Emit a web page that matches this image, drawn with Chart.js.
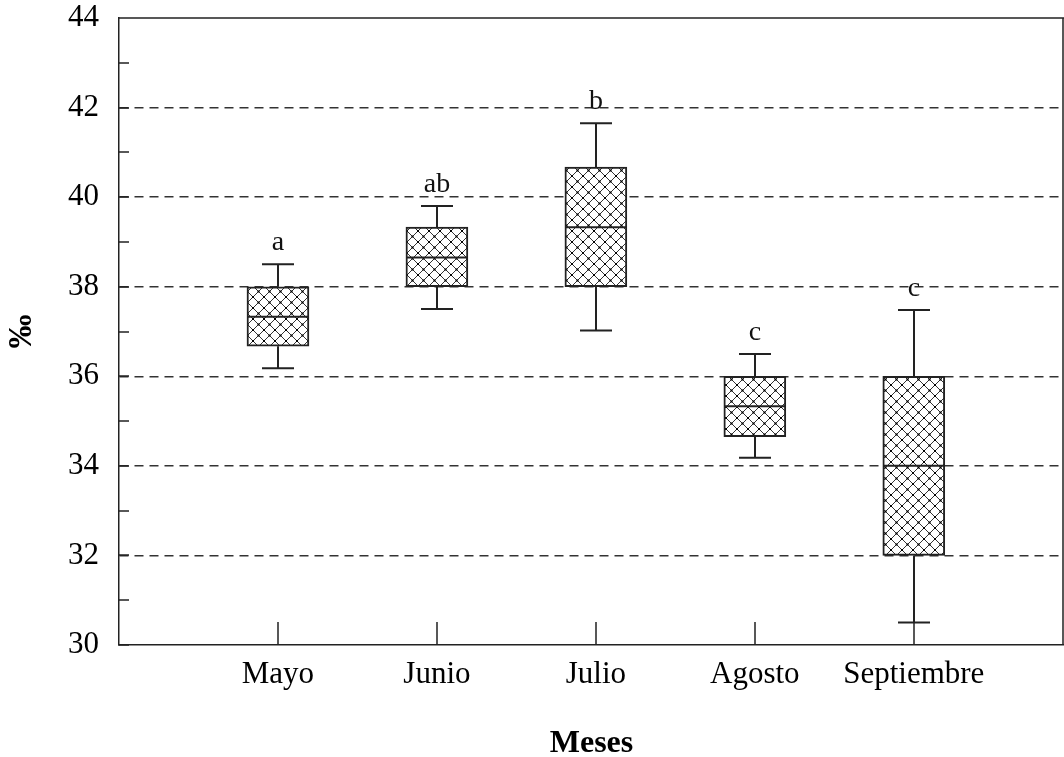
<!DOCTYPE html>
<html>
<head>
<meta charset="utf-8">
<script src="https://cdn.jsdelivr.net/npm/chart.js@4.4.1/dist/chart.umd.min.js"></script>
<style>
  html, body { margin: 0; padding: 0; background: #fff; }
  #wrap { width: 1064px; height: 757px; }
</style>
</head>
<body>
<div id="wrap"><canvas id="chart" width="1064" height="757"></canvas></div>
<script>
// Data
const months = ["Mayo", "Junio", "Julio", "Agosto", "Septiembre"];
const whiskerLow = [36.18, 37.5, 37.02, 34.18, 30.5];
const q1 = [36.67, 38.0, 38.0, 34.65, 32.0];
const median = [37.33, 38.65, 39.33, 35.33, 34.0];
const q3 = [38.0, 39.33, 40.67, 36.0, 36.0];
const whiskerHigh = [38.5, 39.8, 41.65, 36.5, 37.48];
const groups = ["a", "ab", "b", "c", "c"];
const yTicks = [30, 32, 34, 36, 38, 40, 42, 44];

const serif = "'Liberation Serif', 'Times New Roman', serif";

// cross-hatch fill for the boxes
function makeHatch() {
    const s = 11;
    const c = document.createElement("canvas");
    c.width = s; c.height = s;
    const g = c.getContext("2d");
    g.fillStyle = "#fff";
    g.fillRect(0, 0, s, s);
    g.strokeStyle = "#333";
    g.lineWidth = 1;
    g.beginPath();
    g.moveTo(-1, -1); g.lineTo(s + 1, s + 1);
    g.moveTo(s + 1, -1); g.lineTo(-1, s + 1);
    g.stroke();
    g.fillStyle = "#000";
    g.fillRect(s / 2 - 1, s / 2 - 1, 2, 2);
    g.fillRect(0, 0, 1, 1); g.fillRect(s - 1, 0, 1, 1);
    g.fillRect(0, s - 1, 1, 1); g.fillRect(s - 1, s - 1, 1, 1);
    return g.createPattern(c, "repeat");
}

const boxExtras = {
    id: "boxExtras",
    afterDatasetsDraw(chart) {
        const { ctx, chartArea: area, scales: { x, y } } = chart;
        ctx.save();
        ctx.strokeStyle = "#222";
        ctx.lineWidth = 2;
        const capHalf = 16, boxHalf = 31;

        months.forEach((m, i) => {
            const px = Math.round(x.getPixelForValue(i + 1));
            const yLo = y.getPixelForValue(whiskerLow[i]);
            const yQ1 = y.getPixelForValue(q1[i]);
            const yMed = y.getPixelForValue(median[i]);
            const yQ3 = y.getPixelForValue(q3[i]);
            const yHi = y.getPixelForValue(whiskerHigh[i]);

            ctx.beginPath();
            // whiskers
            ctx.moveTo(px, yQ3); ctx.lineTo(px, yHi);
            ctx.moveTo(px, yQ1); ctx.lineTo(px, yLo);
            // caps
            ctx.moveTo(px - capHalf, yHi); ctx.lineTo(px + capHalf, yHi);
            ctx.moveTo(px - capHalf, yLo); ctx.lineTo(px + capHalf, yLo);
            // median
            ctx.moveTo(px - boxHalf, yMed); ctx.lineTo(px + boxHalf, yMed);
            ctx.stroke();

            // group letters
            ctx.fillStyle = "#111";
            ctx.font = "28px " + serif;
            ctx.textAlign = "center";
            ctx.textBaseline = "alphabetic";
            ctx.fillText(groups[i], px, yHi - 14);
        });

        // inward ticks
        ctx.lineWidth = 1.5;
        ctx.beginPath();
        for (let v = 30; v <= 44; v++) {
            const py = Math.round(y.getPixelForValue(v));
            ctx.moveTo(area.left, py); ctx.lineTo(area.left + 10, py);
        }
        months.forEach((m, i) => {
            const px = Math.round(x.getPixelForValue(i + 1));
            ctx.moveTo(px, area.bottom); ctx.lineTo(px, area.bottom - 23);
        });
        // frame top and right
        ctx.moveTo(area.left, area.top); ctx.lineTo(area.right, area.top);
        ctx.moveTo(area.right - 1, area.top); ctx.lineTo(area.right - 1, area.bottom);
        ctx.stroke();
        ctx.restore();
    }
};

const hatch = makeHatch();

new Chart(document.getElementById("chart"), {
    type: "bar",
    data: {
        datasets: [{
            data: months.map((m, i) => ({ x: i + 1, y: [q1[i], q3[i]] })),
            backgroundColor: hatch,
            borderColor: "#222",
            borderWidth: 2,
            borderSkipped: false,
            barThickness: 62
        }]
    },
    options: {
        responsive: false,
        animation: false,
        layout: { padding: { top: 18, right: 0, left: 0, bottom: 0 } },
        plugins: { legend: { display: false }, tooltip: { enabled: false } },
        scales: {
            x: {
                type: "linear",
                offset: false,
                min: 0,
                max: 5.945,
                afterBuildTicks: s => { s.ticks = months.map((m, i) => ({ value: i + 1 })); },
                afterFit: s => { s.height = 112; s.paddingLeft = 0; s.paddingRight = 0; },
                grid: { display: false, drawTicks: false, offset: false },
                border: { display: true, color: "#222", width: 1.5 },
                ticks: {
                    padding: 11,
                    color: "#000",
                    font: { family: serif, size: 31 },
                    maxRotation: 0,
                    callback: v => months[v - 1] || ""
                },
                title: {
                    display: true,
                    text: "Meses",
                    color: "#000",
                    font: { family: serif, size: 32, weight: "bold", lineHeight: 1 },
                    padding: { top: 0, bottom: -3 }
                }
            },
            y: {
                min: 30,
                max: 44,
                afterBuildTicks: s => { s.ticks = yTicks.map(v => ({ value: v })); },
                afterFit: s => { s.width = 119; s.paddingTop = 0; s.paddingBottom = 0; },
                grid: {
                    drawTicks: false,
                    color: c => (c.tick && (c.tick.value === 30 || c.tick.value === 44)) ? "rgba(0,0,0,0)" : "#333",
                    lineWidth: 1.5
                },
                border: { display: true, color: "#222", width: 1.5, dash: [9, 6] },
                ticks: {
                    padding: 20,
                    color: "#000",
                    font: { family: serif, size: 31, lineHeight: 1.15 }
                },
                title: {
                    display: true,
                    text: "‰",
                    color: "#000",
                    font: { family: serif, size: 34, weight: "bold", lineHeight: 1 },
                    padding: { top: 5, bottom: 0 }
                }
            }
        }
    },
    plugins: [boxExtras]
});
</script>
</body>
</html>
